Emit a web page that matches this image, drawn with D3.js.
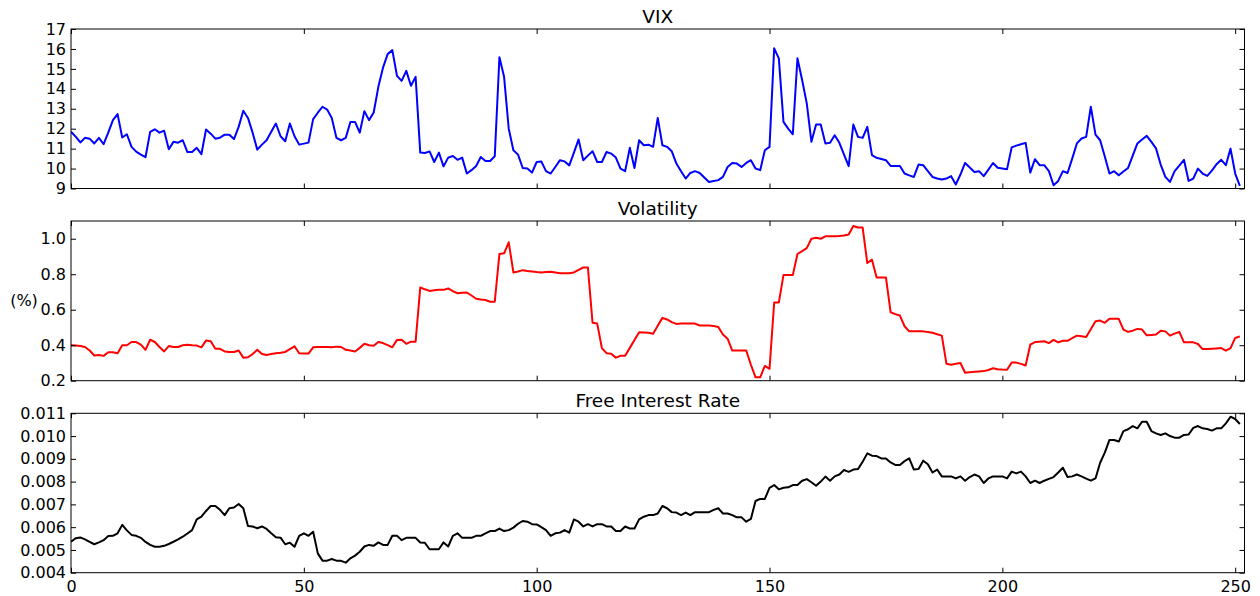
<!DOCTYPE html>
<html>
<head>
<meta charset="utf-8">
<script src="https://cdn.jsdelivr.net/npm/d3@7"></script>
<style>
  html, body { margin: 0; padding: 0; background: #fff; }
  svg { display: block; }
  text { font-family: "DejaVu Sans", sans-serif; fill: #000; }
</style>
</head>
<body>
<svg id="chart" width="1260" height="596"></svg>
<script>
// Daily observations, index 0..251
const vix = [
  11.85, 11.6, 11.31, 11.54, 11.5, 11.26, 11.54, 11.22, 11.8, 12.43,
  12.73, 11.56, 11.72, 11.09, 10.85, 10.7, 10.57, 11.84, 11.97, 11.8,
  11.9, 10.97, 11.34, 11.3, 11.42, 10.83, 10.83, 11.04, 10.72, 11.96,
  11.75, 11.5, 11.55, 11.7, 11.7, 11.48, 12.09, 12.9, 12.54, 11.8,
  10.95, 11.2, 11.42, 11.85, 12.26, 11.62, 11.37, 12.26, 11.62, 11.2,
  11.25, 11.3, 12.48, 12.8, 13.1, 12.96, 12.54, 11.54, 11.42, 11.54,
  12.34, 12.34, 11.8, 12.88, 12.43, 12.81, 14.1, 15.06, 15.74, 15.94,
  14.65, 14.4, 14.9, 14.15, 14.6, 10.8, 10.78, 10.86, 10.33, 10.8,
  10.11, 10.55, 10.63, 10.44, 10.55, 9.75, 9.92, 10.13, 10.58, 10.38,
  10.38, 10.62, 15.58, 14.6, 12.0, 10.92, 10.7, 10.03, 10.0, 9.8,
  10.33, 10.36, 9.87, 9.75, 10.08, 10.42, 10.36, 10.16, 10.8, 11.46,
  10.42, 10.65, 10.87, 10.33, 10.33, 10.83, 10.75, 10.55, 10.0, 9.87,
  11.04, 10.03, 11.42, 11.17, 11.2, 11.09, 12.54, 11.17, 11.09, 10.87,
  10.25, 9.87, 9.5, 9.78, 9.87, 9.78, 9.55, 9.33, 9.38, 9.42,
  9.58, 10.08, 10.28, 10.25, 10.08, 10.28, 10.42, 10.0, 9.92, 10.92,
  11.09, 16.03, 15.53, 12.34, 12.0, 11.72, 15.53, 14.44, 13.27, 11.34,
  12.21, 12.21, 11.26, 11.29, 11.67, 11.29, 10.7, 10.12, 12.21, 11.59,
  11.54, 12.09, 10.67, 10.54, 10.48, 10.42, 10.13, 10.13, 10.13, 9.75,
  9.66, 9.58, 10.2, 10.17, 9.87, 9.58, 9.5, 9.45, 9.5, 9.62,
  9.2, 9.7, 10.28, 10.05, 9.83, 9.87, 9.62, 9.95, 10.28, 10.04,
  10.0, 9.96, 11.06, 11.15, 11.22, 11.29, 9.8, 10.47, 10.17, 10.17,
  9.87, 9.16, 9.38, 9.87, 9.78, 10.5, 11.26, 11.51, 11.59, 13.1,
  11.7, 11.42, 10.6, 9.75, 9.87, 9.66, 9.85, 10.03, 10.65, 11.26,
  11.46, 11.64, 11.34, 11.01, 10.2, 9.58, 9.33, 9.87, 10.15, 10.44,
  9.38, 9.5, 10.0, 9.75, 9.63, 9.9, 10.22, 10.44, 10.17, 11.0,
  9.75, 9.13
];

const volatility = [
  0.40, 0.398, 0.395, 0.39, 0.37, 0.342, 0.345, 0.34, 0.36, 0.36,
  0.355, 0.40, 0.40, 0.418, 0.418, 0.403, 0.374, 0.431, 0.418, 0.39,
  0.365, 0.395, 0.39, 0.39, 0.40, 0.403, 0.40, 0.398, 0.388, 0.426,
  0.422, 0.38, 0.38, 0.365, 0.362, 0.362, 0.37, 0.33, 0.332, 0.35,
  0.374, 0.35, 0.345, 0.35, 0.355, 0.358, 0.362, 0.378, 0.394, 0.355,
  0.353, 0.353, 0.388, 0.39, 0.39, 0.39, 0.388, 0.392, 0.39, 0.374,
  0.37, 0.365, 0.385, 0.408, 0.40, 0.397, 0.418, 0.412, 0.40, 0.388,
  0.43, 0.431, 0.408, 0.42, 0.42, 0.725, 0.715, 0.706, 0.71, 0.712,
  0.712, 0.72, 0.705, 0.693, 0.695, 0.697, 0.68, 0.662, 0.658, 0.655,
  0.645, 0.645, 0.914, 0.918, 0.98, 0.81, 0.815, 0.823, 0.818, 0.815,
  0.812, 0.81, 0.812, 0.814, 0.81, 0.806, 0.806, 0.806, 0.81, 0.825,
  0.838, 0.838, 0.526, 0.522, 0.384, 0.355, 0.352, 0.33, 0.34, 0.34,
  0.385, 0.43, 0.473, 0.472, 0.47, 0.465, 0.51, 0.554, 0.545, 0.53,
  0.52, 0.522, 0.522, 0.522, 0.522, 0.511, 0.511, 0.511, 0.508, 0.503,
  0.46, 0.437, 0.37, 0.37, 0.37, 0.37, 0.29, 0.219, 0.219, 0.283,
  0.267, 0.64, 0.64, 0.795, 0.795, 0.795, 0.914, 0.93, 0.947, 1.0,
  1.006, 1.0, 1.014, 1.014, 1.014, 1.015, 1.018, 1.024, 1.072, 1.063,
  1.063, 0.863, 0.882, 0.782, 0.782, 0.782, 0.586, 0.575, 0.567, 0.507,
  0.478, 0.478, 0.478, 0.478, 0.475, 0.47, 0.462, 0.454, 0.295, 0.29,
  0.295, 0.30, 0.245, 0.248, 0.25, 0.252, 0.254, 0.26, 0.27, 0.265,
  0.263, 0.262, 0.302, 0.302, 0.295, 0.286, 0.403, 0.418, 0.42, 0.422,
  0.412, 0.43, 0.416, 0.425, 0.425, 0.44, 0.454, 0.45, 0.446, 0.49,
  0.535, 0.539, 0.526, 0.549, 0.549, 0.549, 0.488, 0.475, 0.482, 0.492,
  0.488, 0.456, 0.458, 0.46, 0.482, 0.478, 0.454, 0.465, 0.475, 0.416,
  0.416, 0.416, 0.407, 0.378, 0.378, 0.38, 0.382, 0.384, 0.369, 0.384,
  0.441, 0.45
];

const interestRate = [
  0.00536, 0.00551, 0.00555, 0.00546, 0.00535, 0.00525, 0.00533, 0.00543, 0.00561, 0.00562,
  0.00573, 0.0061, 0.00586, 0.00566, 0.00562, 0.00553, 0.00535, 0.00522, 0.00514, 0.00514,
  0.00518, 0.00526, 0.00536, 0.00546, 0.00558, 0.00572, 0.00587, 0.00634, 0.00646, 0.00671,
  0.00693, 0.00693, 0.00676, 0.00653, 0.00683, 0.00686, 0.00702, 0.00683, 0.00605, 0.00603,
  0.00595, 0.00603, 0.00592, 0.00573, 0.00556, 0.00554, 0.00525, 0.00532, 0.00514, 0.00562,
  0.00573, 0.00562, 0.0058, 0.00485, 0.00453, 0.00453, 0.0046, 0.00453, 0.00452, 0.00444,
  0.00463, 0.00475, 0.00492, 0.00515, 0.00522, 0.00518, 0.00533, 0.00522, 0.00522, 0.00562,
  0.00562, 0.00543, 0.00553, 0.00553, 0.00553, 0.00533, 0.00531, 0.00503, 0.00503, 0.00503,
  0.00533, 0.00515, 0.00562, 0.00573, 0.00553, 0.00553, 0.00553, 0.00562, 0.00562, 0.00573,
  0.00583, 0.00583, 0.00594, 0.00583, 0.00587, 0.00598, 0.00615, 0.00627, 0.00624, 0.00613,
  0.00612, 0.006, 0.00587, 0.00562, 0.00573, 0.00576, 0.00587, 0.00576, 0.00634, 0.00624,
  0.00603, 0.00613, 0.00603, 0.00613, 0.00613, 0.00603, 0.00603, 0.00583, 0.00583, 0.00603,
  0.00594, 0.00594, 0.00634, 0.00646, 0.00653, 0.00653, 0.0066, 0.00693, 0.00683, 0.00666,
  0.00664, 0.00653, 0.00664, 0.00653, 0.00666, 0.00666, 0.00666, 0.00666, 0.00676, 0.00683,
  0.0066, 0.0066, 0.00653, 0.00643, 0.00643, 0.00624, 0.00636, 0.00715, 0.00724, 0.00724,
  0.00773, 0.00785, 0.00766, 0.00773, 0.00775, 0.00785, 0.00785, 0.00804, 0.00811, 0.00797,
  0.00782, 0.008, 0.00822, 0.00804, 0.00823, 0.00831, 0.00851, 0.00843, 0.00853, 0.00855,
  0.00887, 0.00924, 0.00914, 0.00912, 0.00902, 0.00902, 0.00884, 0.00873, 0.00873, 0.0089,
  0.00902, 0.00853, 0.00855, 0.00892, 0.00876, 0.0084, 0.00853, 0.00823, 0.00823, 0.00823,
  0.00814, 0.00823, 0.00804, 0.0082, 0.00831, 0.00823, 0.00794, 0.00814, 0.00823, 0.00823,
  0.00823, 0.00814, 0.00844, 0.00836, 0.00844, 0.00823, 0.00794, 0.00804, 0.00794, 0.00804,
  0.00812, 0.0082, 0.0084, 0.00861, 0.0082, 0.00823, 0.00831, 0.00823, 0.00813, 0.00804,
  0.00814, 0.00883, 0.00927, 0.00983, 0.00983, 0.00976, 0.01022, 0.0103, 0.01044, 0.01034,
  0.01063, 0.01063, 0.01022, 0.01012, 0.01005, 0.01012, 0.01, 0.00993, 0.00993, 0.01005,
  0.01007, 0.01036, 0.01044, 0.01034, 0.01031, 0.01024, 0.01034, 0.01034, 0.01056, 0.01085,
  0.01075, 0.01053
];

const xTicks = [0, 50, 100, 150, 200, 250];
const vixTicks = [9, 10, 11, 12, 13, 14, 15, 16, 17];
const volTicks = [0.2, 0.4, 0.6, 0.8, 1.0];
const rateTicks = [0.004, 0.005, 0.006, 0.007, 0.008, 0.009, 0.010, 0.011];

const svg = d3.select("#chart");
const left = 71, right = 1244.5;
const x = d3.scaleLinear().domain([0, 252]).range([left, right]);

const panels = [
  { title: "VIX", data: vix, color: "#0000ff", top: 29, bottom: 188.5,
    domain: [9, 17], ticks: vixTicks, fmt: d3.format("d") },
  { title: "Volatility", data: volatility, color: "#ff0000", top: 221, bottom: 380.7,
    domain: [0.2, 1.1], ticks: volTicks, fmt: d3.format(".1f"), ylabel: "(%)" },
  { title: "Free Interest Rate", data: interestRate, color: "#000000", top: 413.3, bottom: 572.7,
    domain: [0.004, 0.011], ticks: rateTicks, fmt: d3.format(".3f"), xlabels: true }
];

panels.forEach((p, k) => {
  const y = d3.scaleLinear().domain(p.domain).range([p.bottom, p.top]);
  const g = svg.append("g");

  const clipId = "clip" + k;
  g.append("clipPath").attr("id", clipId)
    .append("rect").attr("x", left).attr("y", p.top)
    .attr("width", right - left).attr("height", p.bottom - p.top);

  const line = d3.line().x((d, i) => x(i)).y(d => y(d));
  g.append("path")
    .datum(p.data)
    .attr("clip-path", `url(#${clipId})`)
    .attr("fill", "none")
    .attr("stroke", p.color)
    .attr("stroke-width", 2)
    .attr("stroke-linejoin", "round")
    .attr("d", line);

  // inward ticks on all four sides
  const axes = [
    { axis: d3.axisLeft(y).tickValues(p.ticks).tickFormat(p.fmt), tr: `translate(${left},0)` },
    { axis: d3.axisRight(y).tickValues(p.ticks).tickFormat(""), tr: `translate(${right},0)` },
    { axis: d3.axisBottom(x).tickValues(xTicks).tickFormat(p.xlabels ? d3.format("d") : ""), tr: `translate(0,${p.bottom})` },
    { axis: d3.axisTop(x).tickValues(xTicks).tickFormat(""), tr: `translate(0,${p.top})` }
  ];
  axes.forEach((a, j) => {
    const ag = g.append("g").attr("transform", a.tr)
      .call(a.axis.tickSize(-5).tickPadding(j === 2 ? 8 : 5));
    ag.select(".domain").remove();
    ag.selectAll(".tick line").attr("stroke", "#000").attr("stroke-width", 1);
    ag.selectAll(".tick text")
      .attr("font-size", 16)
      .attr("font-family", "DejaVu Sans")
      .attr("fill", "#000");
  });

  g.append("rect")
    .attr("x", left).attr("y", p.top)
    .attr("width", right - left).attr("height", p.bottom - p.top)
    .attr("fill", "none").attr("stroke", "#000").attr("stroke-width", 1);

  g.append("text")
    .attr("x", (left + right) / 2)
    .attr("y", p.top - 6)
    .attr("text-anchor", "middle")
    .attr("font-size", 18.5)
    .text(p.title);

  if (p.ylabel) {
    g.append("text")
      .attr("x", 24)
      .attr("y", (p.top + p.bottom) / 2)
      .attr("text-anchor", "middle")
      .attr("dominant-baseline", "central")
      .attr("font-size", 16)
      .text(p.ylabel);
  }
});
</script>
</body>
</html>
